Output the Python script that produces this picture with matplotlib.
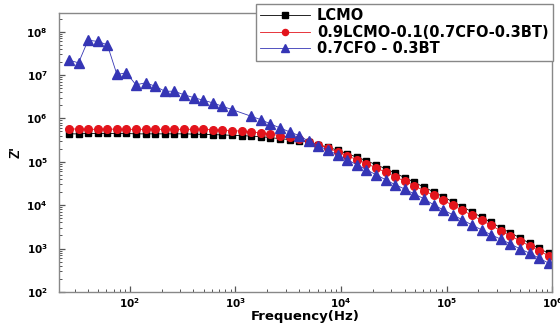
import matplotlib
matplotlib.use('Agg')
import matplotlib.pyplot as plt
import numpy as np
from matplotlib.ticker import LogLocator, FuncFormatter, NullFormatter

plt.rcParams['font.family'] = ['Liberation Sans', 'DejaVu Sans']
plt.rcParams['font.weight'] = 'bold'

# frequency sweep (Hz)
freq = [26.4, 32.6, 40.2, 49.5, 61.1, 75.3, 92.7, 114, 141, 174,
        214, 264, 326, 402, 495, 611, 753, 927, 1143, 1409,
        1738, 2143, 2642, 3258, 4018, 4955, 6109, 7534, 9270, 1.143e4,
        1.409e4, 1.738e4, 2.143e4, 2.642e4, 3.258e4, 4.018e4, 4.955e4, 6.109e4, 7.534e4, 9.270e4,
        1.143e5, 1.409e5, 1.738e5, 2.143e5, 2.642e5, 3.258e5, 4.018e5, 4.955e5, 6.109e5, 7.534e5,
        9.270e5]

z_lcmo = [4.4e5, 4.4e5, 4.5e5, 4.5e5, 4.5e5, 4.5e5, 4.5e5, 4.4e5, 4.4e5, 4.4e5,
          4.4e5, 4.4e5, 4.4e5, 4.34e5, 4.27e5, 4.23e5, 4.16e5, 4.07e5, 4.01e5, 3.90e5,
          3.80e5, 3.60e5, 3.41e5, 3.24e5, 3.07e5, 2.81e5, 2.48e5, 2.17e5, 1.85e5, 1.54e5,
          1.28e5, 1.06e5, 8.57e4, 6.93e4, 5.46e4, 4.30e4, 3.38e4, 2.59e4, 2.04e4, 1.56e4,
          1.20e4, 9.19e3, 7.05e3, 5.26e3, 4.03e3, 3.01e3, 2.31e3, 1.77e3, 1.32e3, 1.01e3,
          7.75e2]

z_comp = [5.7e5, 5.7e5, 5.6e5, 5.6e5, 5.7e5, 5.6e5, 5.6e5, 5.6e5, 5.6e5, 5.6e5,
          5.6e5, 5.6e5, 5.6e5, 5.6e5, 5.6e5, 5.51e5, 5.37e5, 5.23e5, 5.09e5, 4.83e5,
          4.63e5, 4.34e5, 4.01e5, 3.70e5, 3.33e5, 2.91e5, 2.48e5, 2.06e5, 1.71e5, 1.38e5,
          1.12e5, 9.04e4, 7.31e4, 5.75e4, 4.53e4, 3.56e4, 2.81e4, 2.15e4, 1.69e4, 1.30e4,
          9.95e3, 7.63e3, 5.85e3, 4.48e3, 3.43e3, 2.56e3, 1.96e3, 1.51e3, 1.15e3, 8.85e2,
          6.78e2]

z_cfobt = [2.20e7, 1.91e7, 6.36e7, 5.94e7, 4.98e7, 1.03e7, 1.12e7, 5.94e6, 6.61e6, 5.51e6,
           4.23e6, 4.23e6, 3.49e6, 3.02e6, 2.62e6, 2.28e6, 1.90e6, 1.60e6, np.nan, 1.12e6,
           9.37e5, 7.46e5, 6.04e5, 4.88e5, 4.01e5, 2.96e5, 2.35e5, 1.83e5, 1.46e5, 1.12e5,
           8.57e4, 6.57e4, 5.04e4, 3.86e4, 2.96e4, 2.35e4, 1.80e4, 1.41e4, 1.02e4, 7.83e3,
           6.0e3, 4.60e3, 3.5e3, 2.70e3, 2.07e3, 1.65e3, 1.28e3, 9.85e2, 7.83e2, 6.00e2,
           4.60e2]

labels = ['LCMO', '0.9LCMO-0.1(0.7CFO-0.3BT)', '0.7CFO - 0.3BT']

freq = np.array(freq)
z_cfobt = np.array(z_cfobt)
ok = ~np.isnan(z_cfobt)

fig = plt.figure(figsize=(5.6, 3.31), dpi=100)
ax = fig.add_axes([0.105, 0.118, 0.881, 0.843])

ax.plot(freq, z_lcmo, color='black', lw=0.6, marker='s', ms=5, label=labels[0])
ax.plot(freq, z_comp, color='#e3141c', lw=0.6, marker='o', ms=5.5, label=labels[1])
ax.plot(freq[ok], z_cfobt[ok], color='#3535b5', lw=0.6, marker='^', ms=6.5, label=labels[2])

ax.set_xscale('log')
ax.set_yscale('log')
ax.set_xlim(21.2, 1e6)
ax.set_ylim(100, 2.7e8)

fmt = FuncFormatter(lambda v, p: r'$\mathbf{10^{%d}}$' % round(np.log10(v)))
ax.xaxis.set_major_locator(LogLocator(base=10, numticks=10))
ax.yaxis.set_major_locator(LogLocator(base=10, numticks=10))
ax.xaxis.set_minor_locator(LogLocator(base=10, subs=np.arange(2, 10), numticks=10))
ax.yaxis.set_minor_locator(LogLocator(base=10, subs=np.arange(2, 10), numticks=10))
ax.xaxis.set_major_formatter(fmt)
ax.yaxis.set_major_formatter(fmt)
ax.xaxis.set_minor_formatter(NullFormatter())
ax.yaxis.set_minor_formatter(NullFormatter())
ax.tick_params(which='both', direction='in', labelsize=7.5, color='#555555')
ax.tick_params(which='major', length=4, width=0.9)
ax.tick_params(which='minor', length=2, width=0.7)
ax.tick_params(axis='y', which='major', pad=8)
ax.tick_params(axis='x', which='major', pad=3)

for s in ax.spines.values():
    s.set_color('#888888')
    s.set_linewidth(1.0)

ax.set_xlabel('Frequency(Hz)', fontsize=9.5, fontweight='bold', labelpad=0,
              family=['DejaVu Sans'])
ax.set_ylabel("Z'", fontsize=10, fontweight='bold', labelpad=3)

leg = ax.legend(loc='upper right', bbox_to_anchor=(553 / 560, 1 - 4 / 331),
                bbox_transform=fig.transFigure, fancybox=False, framealpha=1,
                edgecolor='#888888', handlelength=3.4, markerscale=0.8,
                prop={'family': 'DejaVu Sans', 'weight': 'bold', 'size': 10.5},
                labelspacing=0.1, borderpad=0.3, borderaxespad=0, handletextpad=0.5)
leg.get_frame().set_linewidth(1.0)

fig.savefig('out.png', dpi=100)
